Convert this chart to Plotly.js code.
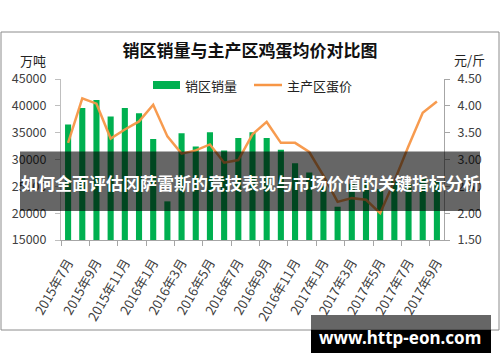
<!DOCTYPE html>
<html><head><meta charset="utf-8">
<script src="https://cdn.plot.ly/plotly-3.0.1.min.js"></script>
<style>html,body{margin:0;padding:0;background:#fff}</style>
</head><body>
<div id="chart" style="width:500px;height:362px"></div>
<script>
const months = ["2015年7月","2015年8月","2015年9月","2015年10月","2015年11月","2015年12月",
  "2016年1月","2016年2月","2016年3月","2016年4月","2016年5月","2016年6月","2016年7月","2016年8月",
  "2016年9月","2016年10月","2016年11月","2016年12月","2017年1月","2017年2月","2017年3月","2017年4月",
  "2017年5月","2017年6月","2017年7月","2017年8月","2017年9月"];
const tickLabels = ["2015年7月","2015年9月","2015年11月","2016年1月","2016年3月","2016年5月","2016年7月",
  "2016年9月","2016年11月","2017年1月","2017年3月","2017年5月","2017年7月","2017年9月"];
const sales = [36500,39600,41100,38000,39600,38600,33800,22200,34900,32400,35100,31700,34000,35100,
  34000,31800,29300,27600,25000,21200,25500,25800,24500,26000,25500,26500,26000];
const price = [3.31,4.14,4.04,3.39,3.56,3.71,4.02,3.43,3.11,3.17,3.28,2.94,2.99,3.47,
  3.70,3.31,3.31,3.14,2.70,2.21,2.28,2.25,2.00,2.60,3.25,3.87,4.08];
const salesTicks = [15000,20000,25000,30000,35000,40000,45000];
const priceTicks = [1.5,2,2.5,3,3.5,4,4.5];
const seriesNames = ["销区销量","主产区蛋价"];
const titleText = "销区销量与主产区鸡蛋均价对比图";
const overlayText = "如何全面评估冈萨雷斯的竞技表现与市场价值的关键指标分析";
const watermarkText = "www.http-eon.com";

const W = 500, H = 362, L = 61, R = 56, T = 79, B = 122;
const pw = W - L - R, ph = H - T - B;
const px = x => (x - L) / pw;
const py = y => (H - B - y) / ph;
const idx = months.map((_, i) => i);
const tickPos = tickLabels.map(t => months.indexOf(t));
const FONT = '"Noto Sans CJK SC", "Noto Sans", sans-serif';

const traces = [
  {type:'bar', x: idx, y: sales, name: seriesNames[0], marker:{color:'#00B050'}, yaxis:'y', hoverinfo:'y', text: months, textposition:'none'},
  {type:'scatter', mode:'lines', x: idx, y: price, name: seriesNames[1], yaxis:'y2',
   line:{color:'#F79646', width:2.5}, opacity:0.95}
];

const layout = {
  width: W, height: H,
  margin: {l:L, r:R, t:T, b:B, pad:0},
  paper_bgcolor:'#fff', plot_bgcolor:'#fff',
  showlegend:false,
  bargap: 0.57,
  font:{family: FONT, color:'#404040', size:12},
  title:{text: titleText, x:0.5, xref:'container', y:1-51/H, yref:'container', yanchor:'middle',
         font:{family:FONT, size:17, color:'#111', weight:'bold'}},
  xaxis:{range:[-0.5, 26.5], tickmode:'array', tickvals: tickPos, ticktext: tickLabels,
         tickangle:-60, ticks:'', ticklabelstandoff:9, showline:true, linecolor:'#A6A6A6', linewidth:1,
         showgrid:false, zeroline:false, tickfont:{size:13, color:'#404040'},
         minor:{ticks:'outside', tickmode:'linear', tick0:-0.5, dtick:2, ticklen:5, tickcolor:'#A6A6A6', showgrid:false}},
  yaxis:{range:[15000,45000], tickmode:'array', tickvals: salesTicks, ticktext: salesTicks.map(String),
         ticks:'outside', ticklen:5, ticklabelstandoff:6, tickcolor:'#BFBFBF', showline:true, linecolor:'#BFBFBF',
         showgrid:false, zeroline:false, tickfont:{size:12.5, color:'#404040'}},
  yaxis2:{range:[1.5,4.5], overlaying:'y', side:'right', tickmode:'array', tickvals: priceTicks,
         ticktext: priceTicks.map(v => v.toFixed(2)), ticks:'outside', ticklen:5, ticklabelstandoff:5, tickcolor:'#A6A6A6', showline:true, linecolor:'#A6A6A6',
         showgrid:false, zeroline:false, tickfont:{size:12.5, color:'#404040'}},
  shapes:[
    {type:'rect', xref:'paper', yref:'paper', x0:px(1), x1:px(499), y0:py(330), y1:py(32),
     line:{color:'#8c8c8c', width:1}, fillcolor:'rgba(0,0,0,0)', layer:'below'},
    {type:'rect', xref:'paper', yref:'paper', x0:px(153), x1:px(180), y0:py(89), y1:py(81),
     line:{width:0}, fillcolor:'#00B050'},
    {type:'line', xref:'paper', yref:'paper', x0:px(254), x1:px(282), y0:py(85), y1:py(85),
     line:{color:'#F79646', width:2.5}},
    {type:'rect', xref:'paper', yref:'paper', x0:px(20), x1:px(480), y0:py(211), y1:py(151.5),
     line:{width:0}, fillcolor:'rgba(0,0,0,0.6)', layer:'above'},
    {type:'rect', xref:'paper', yref:'paper', x0:px(311), x1:px(491), y0:py(330), y1:py(315),
     line:{width:0}, fillcolor:'rgba(0,0,0,0.6)', layer:'above'},
    {type:'rect', xref:'paper', yref:'paper', x0:px(311), x1:px(491), y0:py(353), y1:py(330),
     line:{width:0}, fillcolor:'#000', layer:'above'}
  ],
  annotations:[
    {text:'万吨', xref:'paper', yref:'paper', x:px(33), y:py(60), showarrow:false, xanchor:'center', yanchor:'middle',
     font:{size:13, color:'#222'}},
    {text:'元/斤', xref:'paper', yref:'paper', x:px(470), y:py(59), showarrow:false, xanchor:'center', yanchor:'middle',
     font:{size:13, color:'#222'}},
    {text: seriesNames[0], xref:'paper', yref:'paper', x:px(183), y:py(85), showarrow:false, xanchor:'left', yanchor:'middle',
     font:{size:13, color:'#222'}},
    {text: seriesNames[1], xref:'paper', yref:'paper', x:px(285), y:py(85), showarrow:false, xanchor:'left', yanchor:'middle',
     font:{size:13, color:'#222'}},
    {text: overlayText, xref:'paper', yref:'paper', x:px(250), y:py(182), showarrow:false, xanchor:'center', yanchor:'middle',
     font:{size:17, color:'#fff', weight:'bold'}},
    {text: watermarkText, xref:'paper', yref:'paper', x:px(400), y:py(337), showarrow:false, xanchor:'center', yanchor:'middle',
     font:{family:'"Noto Sans", sans-serif', size:17, color:'#fff', weight:'bold'}}
  ]
};
Plotly.newPlot('chart', traces, layout, {displayModeBar:false, staticPlot:true});
</script>
</body></html>
